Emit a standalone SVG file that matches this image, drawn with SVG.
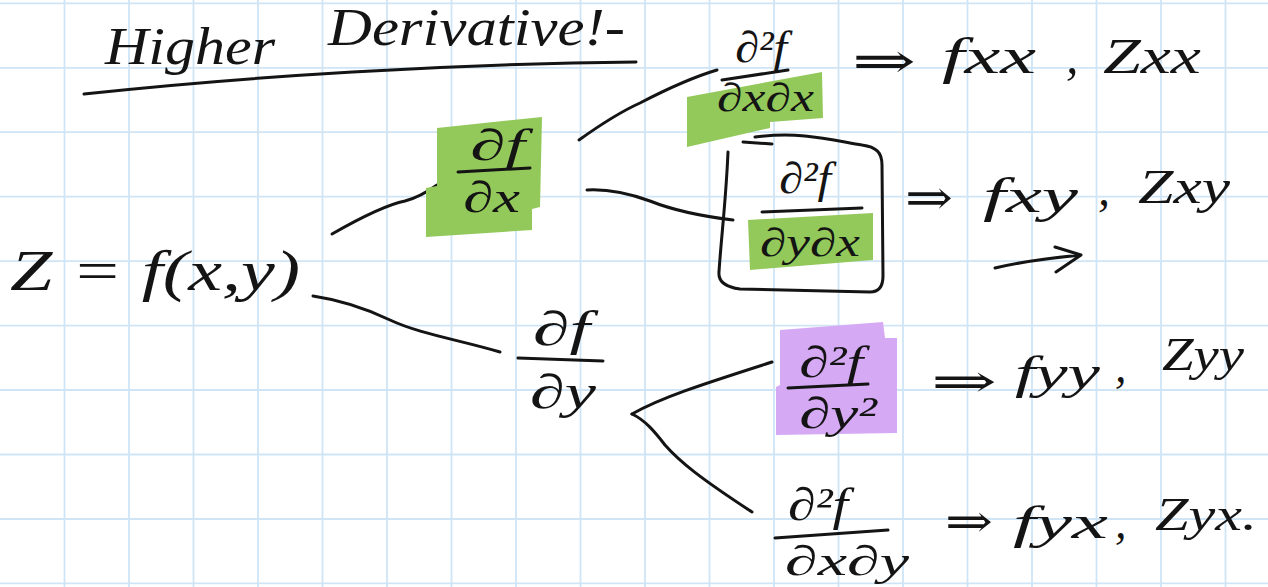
<svg xmlns="http://www.w3.org/2000/svg" width="1268" height="587" viewBox="0 0 1268 587">
<style>
.grid{stroke:#cfe5f6;stroke-width:1.8;fill:none}
.ink{stroke:#141414;stroke-width:3;fill:none;stroke-linecap:round;stroke-linejoin:round}
.t{font-family:"Liberation Serif","DejaVu Serif",serif;font-style:italic;fill:#141414}
.green{fill:#92c95a}
.purple{fill:#d6a9f5}
</style>
<rect width="1268" height="587" fill="#ffffff"/>
<path class="grid" d="M64.5 0V587M129 0V587M193.5 0V587M258 0V587M322.5 0V587M387 0V587M451.5 0V587M516 0V587M580.5 0V587M645 0V587M709.5 0V587M774 0V587M838.5 0V587M903 0V587M967.5 0V587M1032 0V587M1096.5 0V587M1161 0V587M1225.5 0V587M0 3.3H1268M0 67.8H1268M0 132.2H1268M0 196.7H1268M0 261.1H1268M0 325.6H1268M0 390H1268M0 454.5H1268M0 519H1268M0 583.4H1268"/>

<g id="title">
<text class="t" font-size="52"><tspan x="105" y="64" textLength="170" lengthAdjust="spacingAndGlyphs">Higher</tspan><tspan x="328" y="45" textLength="297" lengthAdjust="spacingAndGlyphs">Derivative!-</tspan></text>
<path class="ink" d="M84 94 C 250 76, 450 64, 636 62"/>
</g>

<g id="connectors">
<path class="ink" d="M332 234 C 360 218, 385 205, 405 201 C 420 197, 430 190, 437 185"/>
<path class="ink" d="M313 296 C 340 300, 365 308, 390 320 C 420 334, 460 340, 500 352"/>
<path class="ink" d="M579 140 C 600 125, 620 112, 640 103 C 665 90, 690 78, 717 70"/>
<path class="ink" d="M587 190 C 605 189, 625 192, 650 201 C 675 211, 700 216, 733 220"/>
<path class="ink" d="M632 414 C 660 398, 700 385, 772 362"/>
<path class="ink" d="M632 414 C 645 420, 655 432, 665 445 C 680 462, 700 478, 752 512"/>
</g>

<g id="node-z">
<text class="t" x="10" y="290" font-size="58" textLength="290" lengthAdjust="spacingAndGlyphs">Z = f(x,y)</text>
</g>

<g id="node-dfdx">
<polygon class="green" points="437,128 542,117 540,207 532,209 532,230 426,237 426,188 437,186"/>
<text class="t" x="470" y="160" font-size="44" textLength="55" lengthAdjust="spacingAndGlyphs">∂f</text>
<path class="ink" d="M458 172 L530 168"/>
<text class="t" x="463" y="212" font-size="44" textLength="57" lengthAdjust="spacingAndGlyphs">∂x</text>
</g>

<g id="node-dfdy">
<text class="t" x="533" y="345" font-size="48" textLength="57" lengthAdjust="spacingAndGlyphs">∂f</text>
<path class="ink" d="M518 358 L603 361"/>
<text class="t" x="530" y="408" font-size="48" textLength="66" lengthAdjust="spacingAndGlyphs">∂y</text>
</g>

<g id="node-dxdx">
<polygon class="green" points="687,97 822,72 823,118 770,122 770,128 687,147"/>
<text class="t" x="735" y="62" font-size="44" textLength="52" lengthAdjust="spacingAndGlyphs">∂²f</text>
<path class="ink" d="M722 80 L788 70"/>
<text class="t" x="717" y="111" font-size="40" textLength="97" lengthAdjust="spacingAndGlyphs">∂x∂x</text>
</g>

<g id="node-dydx">
<polygon class="green" points="748,220 873,213 873,260 750,270"/>
<path class="ink" d="M728 152 C 726 200, 721 240, 719 272 C 718 282, 726 287, 740 289 L 870 292 C 879 292, 883 286, 883 276 L 882 165 C 882 152, 876 147, 862 145 C 832 140, 800 131, 755 137"/>
<path class="ink" d="M743 142 L772 144"/>
<text class="t" x="779" y="193" font-size="44" textLength="52" lengthAdjust="spacingAndGlyphs">∂²f</text>
<path class="ink" d="M762 212 L862 208"/>
<text class="t" x="760" y="256" font-size="40" textLength="100" lengthAdjust="spacingAndGlyphs">∂y∂x</text>
</g>

<g id="node-dy2">
<polygon class="purple" points="780,330 883,322 885,338 897,338 897,433 776,435 776,387 780,385"/>
<text class="t" x="799" y="377" font-size="44" textLength="64" lengthAdjust="spacingAndGlyphs">∂²f</text>
<path class="ink" d="M788 388 L868 384"/>
<text class="t" x="799" y="428" font-size="44" textLength="78" lengthAdjust="spacingAndGlyphs">∂y²</text>
</g>

<g id="node-dxdy">
<text class="t" x="788" y="520" font-size="46" textLength="60" lengthAdjust="spacingAndGlyphs">∂²f</text>
<path class="ink" d="M775 538 L888 530"/>
<text class="t" x="785" y="575" font-size="42" textLength="124" lengthAdjust="spacingAndGlyphs">∂x∂y</text>
</g>

<g id="result-xx">
<text class="t" font-size="50"><tspan x="852" y="78" textLength="64" lengthAdjust="spacingAndGlyphs">⇒</tspan><tspan x="942" y="73" textLength="94" lengthAdjust="spacingAndGlyphs">fxx</tspan><tspan x="1066" y="73">,</tspan><tspan x="1103" y="73" textLength="98" lengthAdjust="spacingAndGlyphs">Zxx</tspan></text>
</g>

<g id="result-xy">
<text class="t" font-size="48"><tspan x="905" y="214" textLength="48" lengthAdjust="spacingAndGlyphs">⇒</tspan><tspan x="983" y="212" textLength="95" lengthAdjust="spacingAndGlyphs">fxy</tspan><tspan x="1098" y="205">,</tspan><tspan x="1138" y="203" textLength="92" lengthAdjust="spacingAndGlyphs">Zxy</tspan></text>
<path class="ink" d="M995 268 C 1020 262, 1050 258, 1081 255 M1055 247 L1081 255 L1056 272"/>
</g>

<g id="result-yy">
<text class="t" font-size="46"><tspan x="931" y="397" textLength="66" lengthAdjust="spacingAndGlyphs">⇒</tspan><tspan x="1015" y="388" textLength="85" lengthAdjust="spacingAndGlyphs">fyy</tspan><tspan x="1115" y="382">,</tspan><tspan x="1162" y="370" textLength="82" lengthAdjust="spacingAndGlyphs">Zyy</tspan></text>
</g>

<g id="result-yx">
<text class="t" font-size="46"><tspan x="945" y="537" textLength="48" lengthAdjust="spacingAndGlyphs">⇒</tspan><tspan x="1013" y="538" textLength="95" lengthAdjust="spacingAndGlyphs">fyx</tspan><tspan x="1115" y="538">,</tspan><tspan x="1155" y="530" textLength="102" lengthAdjust="spacingAndGlyphs">Zyx.</tspan></text>
</g>
</svg>
